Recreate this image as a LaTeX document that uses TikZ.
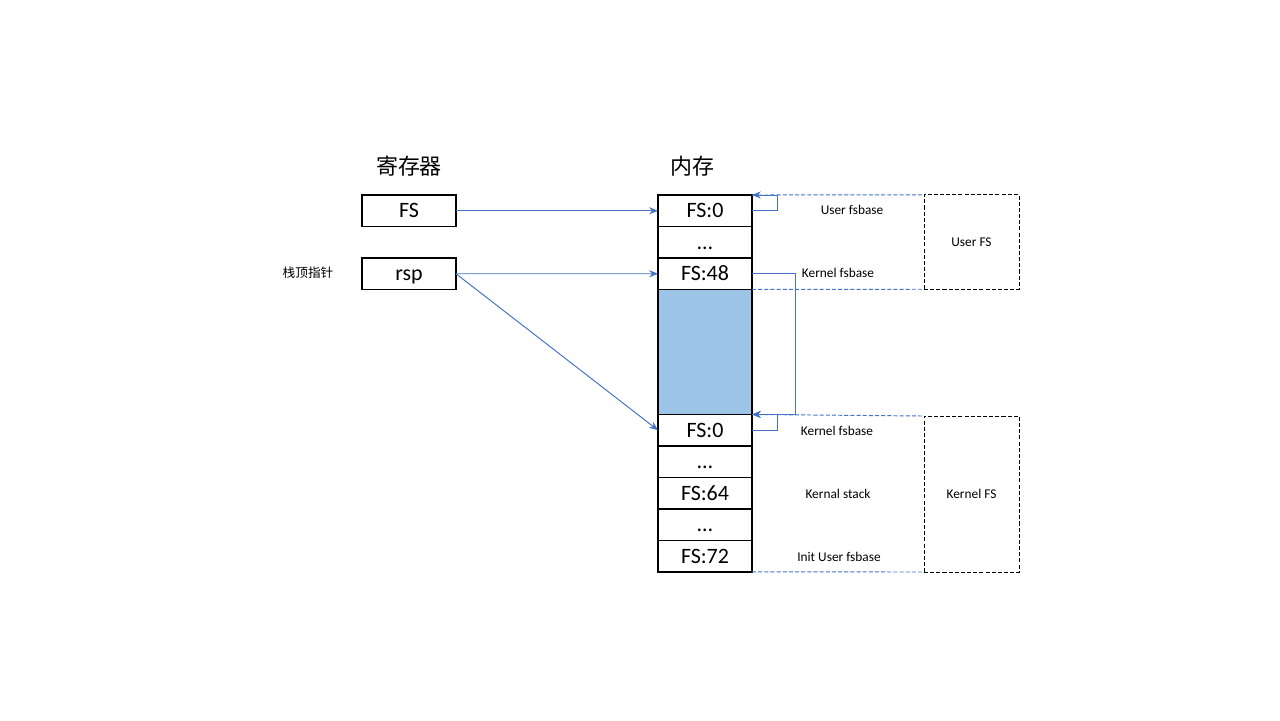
\documentclass[tikz,border=0pt]{standalone}
\usepackage{fontspec}
\setmainfont{Carlito}
\newfontfamily\cjk{Noto Sans CJK SC}
\usetikzlibrary{arrows.meta,positioning}
\definecolor{linkblue}{RGB}{68,114,196}
\definecolor{stackblue}{RGB}{157,195,230}
\tikzset{
  cell/.style={draw, line width=0.65pt, minimum width=1.88cm, minimum height=0.63cm,
    inner sep=0pt, outer sep=0pt, text height=9.5pt, text depth=1.5pt,
    font=\fontsize{12.5}{13}\selectfont},
  link/.style={draw=linkblue, line width=0.55pt, -{Stealth[length=5pt,width=4pt]}},
  guide/.style={draw=linkblue, line width=0.55pt, dash pattern=on 2.3pt off 1.2pt},
  region/.style={draw, line width=0.5pt, dash pattern=on 2.3pt off 1.2pt, inner sep=0pt,
    outer sep=0pt, minimum width=1.9cm, font=\fontsize{7.6}{8}\selectfont},
  note/.style={font=\fontsize{7.6}{8}\selectfont},
  title/.style={font=\cjk\fontsize{12.5}{13}\selectfont},
}

\begin{document}
\begin{tikzpicture}[x=0.02cm, y=-0.02cm]
  \useasboundingbox (0,0) rectangle (1280,720);

  % Titles
  \node[title] (regtitle) at (409,166) {寄存器};
  \node[title] (memtitle) at (692,166) {内存};

  % Registers
  \node[cell] (fs) at (409,210.75) {FS};
  \node[cell] (rsp) at (409,273.75) {rsp};
  \node[font=\cjk\fontsize{7.2}{8}\selectfont] (sptext) at (308,273) {栈顶指针};

  % Memory
  \node[cell] (m0) at (705,210.75) {FS:0};
  \node[cell, below=0pt of m0] (m1) {…};
  \node[cell, below=0pt of m1] (m2) {FS:48};
  \node[cell, below=0pt of m2, fill=stackblue, minimum height=2.5cm] (m3) {};
  \node[cell, below=0pt of m3] (m4) {FS:0};
  \node[cell, below=0pt of m4] (m5) {…};
  \node[cell, below=0pt of m5] (m6) {FS:64};
  \node[cell, below=0pt of m6] (m7) {…};
  \node[cell, below=0pt of m7] (m8) {FS:72};

  % Regions
  \node[region, minimum height=1.89cm] (userfs) at (971.5,242) {User FS};
  \node[region, minimum height=3.12cm] (kernfs) at (971.5,494) {Kernel FS};
  \draw[guide] (m0.north east) -- (userfs.north west);
  \draw[guide] (m2.south east) -- (userfs.south west);
  \draw[guide] (m4.north east) -- (kernfs.north west);
  \draw[guide] (m8.south east) -- (kernfs.south west);

  % Labels
  \node[note] (ufsbase) at (852,210) {User fsbase};
  \node[note] (kfsbase1) at (838,273) {Kernel fsbase};
  \node[note] (kfsbase2) at (837,431) {Kernel fsbase};
  \node[note] (kstack) at (838,494) {Kernal stack};
  \node[note] (initbase) at (839,557) {Init User fsbase};

  % Links
  \draw[link] (fs.east) -- (m0.west);
  \draw[link] (rsp.east) -- (m2.west);
  \draw[link] (rsp.east) -- (m4.west);
  \draw[link] (m0.east) -- ++(25,0) |- (m0.north east);
  \draw[link] (m4.east) -- ++(25,0) |- (m4.north east);
  \draw[link] (m2.east) -- ++(43,0) |- (m4.north east);
\end{tikzpicture}
\end{document}
